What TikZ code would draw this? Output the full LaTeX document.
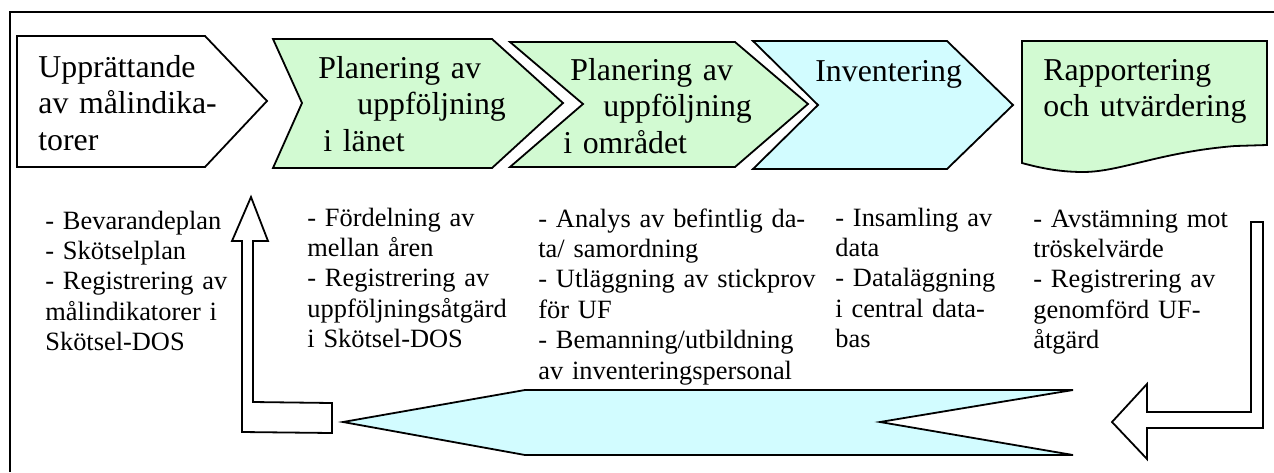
\documentclass[tikz,border=0pt]{standalone}
\usepackage{fontspec}
\setmainfont{Liberation Serif}
\definecolor{stepgreen}{HTML}{D2FAD2}
\definecolor{stepcyan}{HTML}{D2FCFF}
\tikzset{
  outline/.style={draw=black, line width=0.9pt, line join=miter},
  headtext/.style={anchor=base west, inner sep=0pt, text width=120pt, align=left,
    font=\fontsize{15.9}{18.25}\selectfont},
  notetext/.style={anchor=base west, inner sep=0pt, text width=120pt, align=left,
    font=\fontsize{13.2}{15.2}\selectfont},
}
\begin{document}
\begin{tikzpicture}[x=0.5pt, y=-0.5pt]
\useasboundingbox (0,0) rectangle (1274,472);
% outer frame (runs past the page on the right and at the bottom)
\draw[line width=0.9pt] (10,472) -- (10,12) -- (1274,12);

% process steps
\path[outline, fill=white] (17,36) -- (205,36) -- (267,101) -- (205,167) -- (17,167) -- cycle;
\path[outline, fill=stepgreen] (273,39) -- (492,39) -- (563,103) -- (492,168) -- (273,168) -- (302,103) -- cycle;
\path[outline, fill=stepgreen] (510,42) -- (735,42) -- (808,104) -- (735,167) -- (510,167) -- (583,104) -- cycle;
\path[outline, fill=stepcyan] (753,41) -- (947,41) -- (1013,105) -- (947,169) -- (753,169) -- (818,105) -- cycle;
\path[outline, fill=stepgreen] (1022,41) -- (1267,41) -- (1267,145) -- (1235,146)
  .. controls (1160,152) and (1120,172) .. (1083,172)
  .. controls (1060,172) and (1040,168) .. (1022,163) -- cycle;

\node[headtext] (s1) at (38,77) {Upprättande\\av målindika-\\torer};
\node[headtext] (s2) at (318,78) {Planering av\\\hspace*{19.5pt}uppföljning\\\hspace*{2.5pt}i länet};
\node[headtext] (s3) at (563,80) {\hspace*{3.5pt}Planering av\\\hspace*{20pt}uppföljning\\i området};
\node[headtext] (s4) at (815,81) {Inventering};
\node[headtext] (s5) at (1043,80) {Rapportering\\och utvärdering};

% notes under each step
\node[notetext] (n1) at (45,229) {- Bevarandeplan\\- Skötselplan\\- Registrering av\\målindikatorer i\\Skötsel-DOS};
\node[notetext] (n2) at (307,226) {- Fördelning av\\mellan åren\\- Registrering av\\uppföljningsåtgärd\\i Skötsel-DOS};
\node[notetext, text width=140pt] (n3) at (538,227) {- Analys av befintlig da-\\ta/ samordning\\- Utläggning av stickprov\\för UF\\- Bemanning/utbildning\\av inventeringspersonal};
\node[notetext] (n4) at (835,226) {- Insamling av\\data\\- Dataläggning\\i central data-\\bas};
\node[notetext] (n5) at (1033,227) {- Avstämning mot\\tröskelvärde\\- Registrering av\\genomförd UF-\\åtgärd};

% return loop: arrow down on the right, banner, arrow up on the left
\path[outline, fill=white] (1251,222) -- (1263,222) -- (1263,428) -- (1147,428) -- (1147,459)
  -- (1112,422) -- (1147,384) -- (1147,412) -- (1251,412) -- cycle;
\path[outline, fill=stepcyan] (343,422) -- (525,390) -- (1073,390) -- (880,422) -- (1073,455) -- (525,455) -- cycle;
\path[outline, fill=white] (251,197) -- (268,241) -- (253,241) -- (253,402) -- (332,403)
  -- (332,433) -- (242,432) -- (242,241) -- (232,241) -- cycle;
\end{tikzpicture}
\end{document}
